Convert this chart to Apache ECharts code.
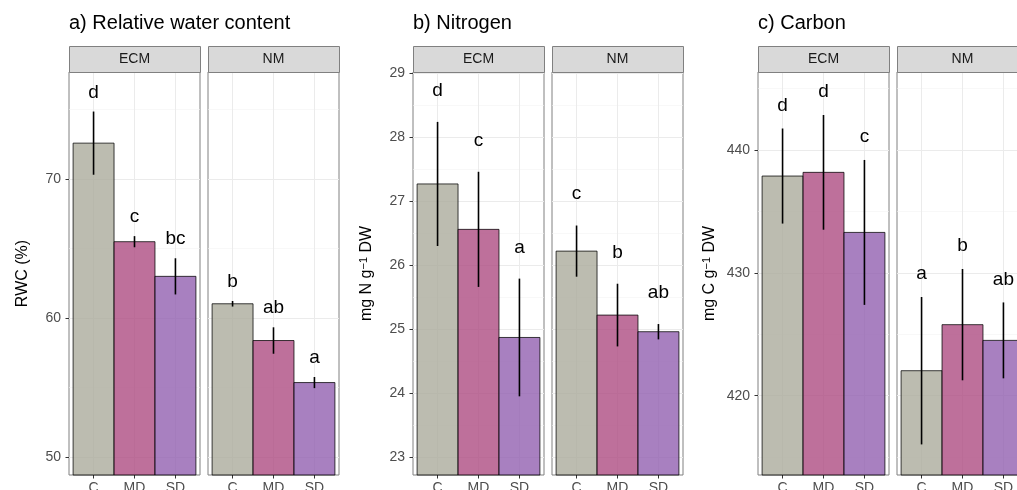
<!DOCTYPE html>
<html>
<head>
<meta charset="utf-8">
<script src="https://cdn.jsdelivr.net/npm/echarts@6/dist/echarts.min.js"></script>
<style>
html,body{margin:0;padding:0;background:#fff;}
#c{width:1017px;height:490px;}
</style>
</head>
<body>
<div id="c"></div>
<script>
// ---------- data ----------
const categories = ['C', 'MD', 'SD'];
const facets = ['ECM', 'NM'];

const rwcECM = [72.57, 65.49, 63.00];
const rwcECMse = [2.27, 0.40, 1.30];
const rwcECMletters = ['d', 'c', 'bc'];
const rwcNM = [61.03, 58.39, 55.37];
const rwcNMse = [0.20, 0.95, 0.40];
const rwcNMletters = ['b', 'ab', 'a'];

const nECM = [27.27, 26.56, 24.87];
const nECMse = [0.97, 0.90, 0.92];
const nECMletters = ['d', 'c', 'a'];
const nNM = [26.22, 25.22, 24.96];
const nNMse = [0.40, 0.49, 0.12];
const nNMletters = ['c', 'b', 'ab'];

const cECM = [437.88, 438.18, 433.29];
const cECMse = [3.87, 4.67, 5.90];
const cECMletters = ['d', 'd', 'c'];
const cNM = [422.03, 425.78, 424.50];
const cNMse = [6.00, 4.53, 3.09];
const cNMletters = ['a', 'b', 'ab'];

const rwcTicks = [50, 60, 70];
const rwcMinor = [55, 65, 75];
const nTicks = [23, 24, 25, 26, 27, 28, 29];
const nMinor = [23.5, 24.5, 25.5, 26.5, 27.5, 28.5];
const cTicks = [420, 430, 440];
const cMinor = [415, 425, 435, 445];

// ---------- style ----------
const FONT = '"Liberation Sans", Arial, Helvetica, sans-serif';
const fills = ['rgba(171,171,156,0.8)', 'rgba(174,76,130,0.8)', 'rgba(146,96,176,0.8)'];

const panels = [
  { title: 'a) Relative water content', left: 69, yMin: 48.73, yMax: 77.68, ticks: rwcTicks, minor: rwcMinor, off: 1.38,
    name: '{t|RWC (%)}', gap: 38,
    facets: [[rwcECM, rwcECMse, rwcECMletters], [rwcNM, rwcNMse, rwcNMletters]] },
  { title: 'b) Nitrogen', left: 413, yMin: 22.72, yMax: 29.02, ticks: nTicks, minor: nMinor, off: 0.49,
    name: '{t|mg N g}{s|\u22121}{t| DW}', gap: 38,
    facets: [[nECM, nECMse, nECMletters], [nNM, nNMse, nNMletters]] },
  { title: 'c) Carbon', left: 758, yMin: 413.54, yMax: 446.35, ticks: cTicks, minor: cMinor, off: 1.86,
    name: '{t|mg C g}{s|\u22121}{t| DW}', gap: 40,
    facets: [[cECM, cECMse, cECMletters], [cNM, cNMse, cNMletters]] }
];

const TOP = 72, H = 403, W = 131, FGAP = 8, STRIP = 26;

const grid = [], xAxis = [], yAxis = [], series = [], title = [], graphic = [];
let gi = 0;
panels.forEach((p, pi) => {
  title.push({ text: p.title, left: p.left, top: 13, padding: 0,
    textStyle: { fontFamily: FONT, fontSize: 20, fontWeight: 'normal', color: '#000' } });
  p.facets.forEach((f, fi) => {
    const left = p.left + fi * (W + FGAP);
    grid.push({ left: left, top: TOP, width: W, height: H, show: true,
      borderColor: '#808080', borderWidth: 1, backgroundColor: '#fff',
      containLabel: false, outerBoundsMode: 'none' });
    // strip
    graphic.push({ type: 'rect', left: left, top: TOP - STRIP, z: 10,
      shape: { width: W, height: STRIP },
      style: { fill: '#d9d9d9', stroke: '#808080', lineWidth: 1 } });
    graphic.push({ type: 'text', z: 11, x: left + W / 2, y: TOP - STRIP / 2,
      style: { text: facets[fi], font: '14px ' + FONT, fill: '#1a1a1a', align: 'center', verticalAlign: 'middle' } });

    xAxis.push({ type: 'value', gridIndex: gi, min: 0.4, max: 3.6,
      axisLine: { show: false },
      axisTick: { show: true, length: 3.5, customValues: [1, 2, 3], lineStyle: { color: '#333', width: 1 } },
      axisLabel: { show: true, customValues: [1, 2, 3], margin: 6, color: '#4d4d4d', fontSize: 14, fontFamily: FONT,
        formatter: v => categories[Math.round(v) - 1] },
      splitLine: { show: true, lineStyle: { color: '#ebebeb', width: 1 } } });
    const yi = yAxis.length;
    yAxis.push({ type: 'value', gridIndex: gi, min: p.yMin, max: p.yMax,
      axisLine: { show: false },
      axisTick: { show: fi === 0, length: 3.5, customValues: p.ticks, lineStyle: { color: '#333', width: 1 } },
      axisLabel: { show: fi === 0, customValues: p.ticks, margin: 8, color: '#4d4d4d', fontSize: 14, fontFamily: FONT },
      splitLine: { show: true, lineStyle: { color: '#ebebeb', width: 1 } },
      name: fi === 0 ? p.name : '', nameLocation: 'middle', nameGap: p.gap,
      nameTextStyle: { rich: {
        t: { fontSize: 16, fontFamily: FONT, color: '#000' },
        s: { fontSize: 11, fontFamily: FONT, color: '#000', verticalAlign: 'top', padding: [0, 0, 6, 0] } } } });
    yAxis.push({ type: 'value', gridIndex: gi, min: p.yMin, max: p.yMax,
      axisLine: { show: false },
      axisTick: { show: false, customValues: p.minor },
      axisLabel: { show: false, customValues: p.minor },
      splitLine: { show: true, lineStyle: { color: '#f4f4f4', width: 0.6 } } });

    const means = f[0], ses = f[1], letters = f[2];
    const data = categories.map((c, i) => [i + 1, means[i], ses[i]]);
    const yMin = p.yMin, off = p.off;
    series.push({ type: 'custom', xAxisIndex: gi, yAxisIndex: yi, data: data, z: 5, silent: true,
      renderItem: function (params, api) {
        const i = params.dataIndex;
        const x = api.value(0), m = api.value(1), s = api.value(2);
        const tl = api.coord([x - 0.5, m]);
        const br = api.coord([x + 0.5, yMin]);
        const eT = api.coord([x, m + s]);
        const eB = api.coord([x, m - s]);
        const lb = api.coord([x, m + s + off]);
        return { type: 'group', children: [
          { type: 'rect', shape: { x: tl[0], y: tl[1], width: br[0] - tl[0], height: br[1] - tl[1] },
            style: { fill: fills[i], stroke: 'rgba(0,0,0,0.75)', lineWidth: 1 } },
          { type: 'line', shape: { x1: eT[0], y1: eT[1], x2: eB[0], y2: eB[1] },
            style: { stroke: '#000', lineWidth: 1.6 } },
          { type: 'text', x: lb[0], y: lb[1],
            style: { text: letters[i], fill: '#000', font: '19px ' + FONT, align: 'center', verticalAlign: 'middle' } }
        ] };
      } });
    gi++;
  });
});

const chart = echarts.init(document.getElementById('c'), null, { renderer: 'canvas' });
chart.setOption({ animation: false, backgroundColor: '#fff', title, grid, xAxis, yAxis, series, graphic });
</script>
</body>
</html>
